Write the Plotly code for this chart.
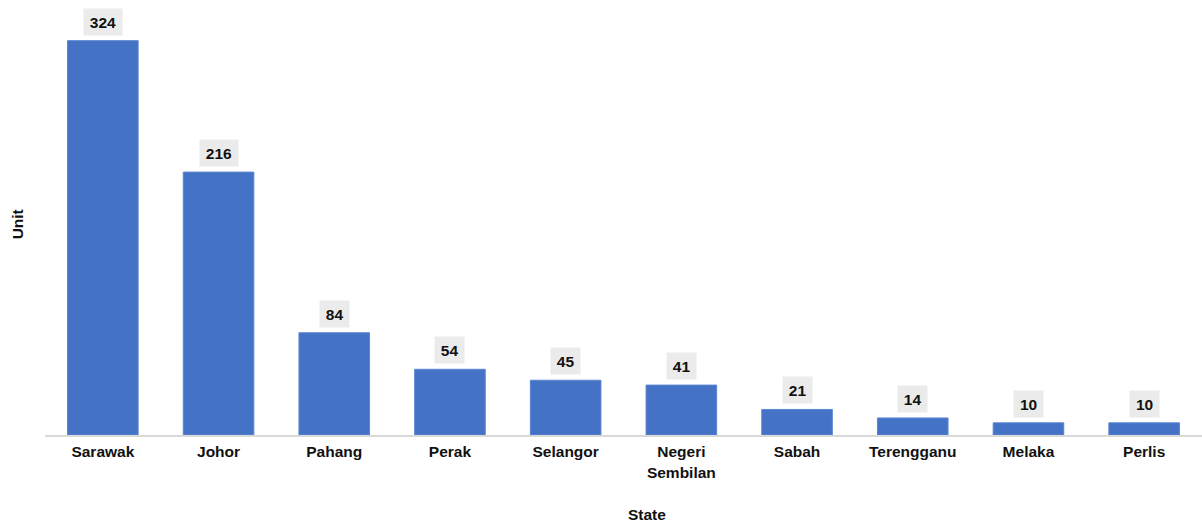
import plotly.graph_objects as go

# Units by state
states = ["Sarawak", "Johor", "Pahang", "Perak", "Selangor",
          "Negeri<br>Sembilan", "Sabah", "Terengganu", "Melaka", "Perlis"]
units = [324, 216, 84, 54, 45, 41, 21, 14, 10, 10]

FONT = "Liberation Sans, Arial, sans-serif"
BAR_COLOR = "#4472c4"

fig = go.Figure(
    go.Bar(
        x=states,
        y=units,
        marker=dict(color=BAR_COLOR, line=dict(color="#5a86d2", width=1)),
        hoverinfo="x+y",
    )
)

# Value labels in grey boxes above each bar
for s, v in zip(states, units):
    n = len(str(v))
    fig.add_annotation(
        x=s, y=v, xref="x", yref="y",
        text=f"<b>{v}</b>",
        showarrow=False,
        yanchor="bottom",
        yshift=5,
        bgcolor="#ebebeb",
        borderpad=4,
        width=8.6 * n + 4,
        height=18,
        font=dict(family=FONT, size=15.5, color="#111111"),
    )

# Axis titles
fig.add_annotation(
    text="<b>State</b>", xref="paper", yref="paper",
    x=(647 - 45) / 1157, y=-(514 - 435) / 426, showarrow=False,
    xanchor="center", yanchor="middle",
    font=dict(family=FONT, size=15.5, color="#111111"),
)
fig.add_annotation(
    text="<b>Unit</b>", xref="paper", yref="paper",
    x=-0.024, y=0.495, showarrow=False, textangle=-90,
    xanchor="center", yanchor="middle",
    font=dict(family=FONT, size=15.5, color="#111111"),
)

fig.update_layout(
    width=1202, height=522,
    margin=dict(l=45, r=0, t=9, b=87),
    paper_bgcolor="white", plot_bgcolor="white",
    bargap=0.39,
    showlegend=False,
    font=dict(family=FONT, size=15, color="#111111"),
)
fig.update_xaxes(
    type="category",
    range=[-0.5, 9.5],
    showline=True, linecolor="#d9d9d9", linewidth=1.5,
    showgrid=False, ticks="",
    ticklabelstandoff=2,
    tickfont=dict(family=FONT, size=15.5, color="#111111", weight="bold"),
    automargin=False,
)
fig.update_yaxes(
    range=[0, 350],
    showgrid=False, showline=False, zeroline=False,
    showticklabels=False, ticks="",
    automargin=False,
)

fig.write_html("out.html")
